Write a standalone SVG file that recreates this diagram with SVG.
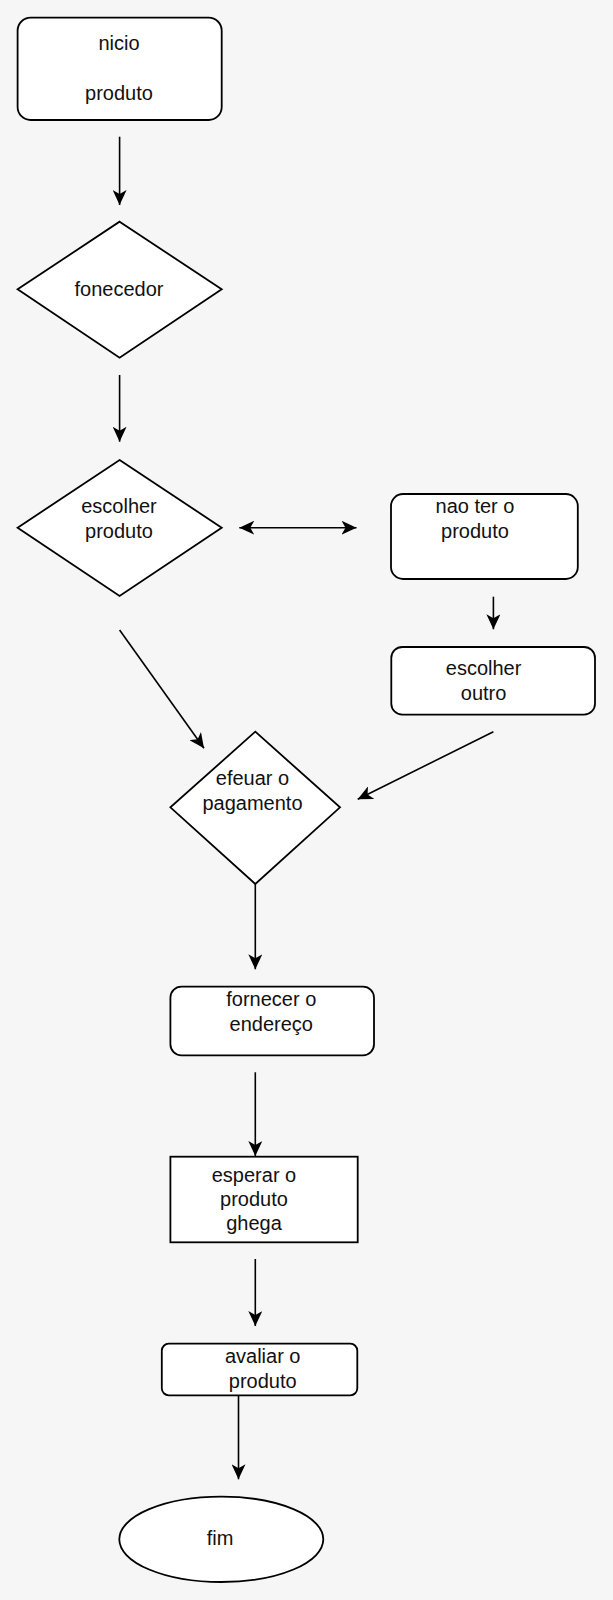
<svg xmlns="http://www.w3.org/2000/svg" width="613" height="1600" viewBox="0 0 613 1600">
<defs>
<marker id="ah" markerUnits="userSpaceOnUse" viewBox="0 0 15 14" refX="15" refY="7" markerWidth="15" markerHeight="14" orient="auto-start-reverse">
<path d="M0,0 L15,7 L0,14 L4,7 Z" fill="#000"/>
</marker>
</defs>
<style>
.s{fill:#fff;stroke:#000;stroke-width:1.8}
.t{font-family:"Liberation Sans",Arial,sans-serif;font-size:20px;fill:#111;text-anchor:middle}
.c{fill:none;stroke:#000;stroke-width:1.6}
</style>
<rect width="613" height="1600" fill="#f6f6f6"/>
<g id="connectors">
<line class="c" x1="119.6" y1="136.7" x2="119.6" y2="205" marker-end="url(#ah)"/>
<line class="c" x1="119.6" y1="375" x2="119.6" y2="441.7" marker-end="url(#ah)"/>
<line class="c" x1="239.3" y1="527.7" x2="356.5" y2="527.7" marker-start="url(#ah)" marker-end="url(#ah)"/>
<line class="c" x1="493.4" y1="596.7" x2="493.4" y2="629.3" marker-end="url(#ah)"/>
<line class="c" x1="119.6" y1="630" x2="204" y2="748.3" marker-end="url(#ah)"/>
<line class="c" x1="493.4" y1="731.7" x2="357.7" y2="799.3" marker-end="url(#ah)"/>
<line class="c" x1="255.3" y1="884" x2="255.3" y2="969.3" marker-end="url(#ah)"/>
<line class="c" x1="255.3" y1="1072.3" x2="255.3" y2="1156" marker-end="url(#ah)"/>
<line class="c" x1="255.3" y1="1259" x2="255.3" y2="1326" marker-end="url(#ah)"/>
<line class="c" x1="238.5" y1="1395.3" x2="238.5" y2="1479.3" marker-end="url(#ah)"/>
</g>
<g id="inicio">
<rect class="s" x="17.6" y="17.7" width="204.1" height="102.3" rx="13" ry="13"/>
<text class="t" x="119" y="50">nicio</text>
<text class="t" x="119" y="100">produto</text>
</g>
<g id="fonecedor">
<polygon class="s" points="119.6,221.7 221.7,289.3 119.6,357.7 17.6,289.3"/>
<text class="t" x="119" y="296">fonecedor</text>
</g>
<g id="escolher-produto">
<polygon class="s" points="119.6,460 221.7,527.7 119.6,596 17.6,527.7"/>
<text class="t" x="119" y="513.3">escolher</text>
<text class="t" x="119" y="538.3">produto</text>
</g>
<g id="nao-ter">
<rect class="s" x="391" y="494" width="186.8" height="85" rx="12" ry="12"/>
<text class="t" x="475" y="513.3">nao ter o</text>
<text class="t" x="475" y="538.3">produto</text>
</g>
<g id="escolher-outro">
<rect class="s" x="391.3" y="647" width="203.7" height="67.7" rx="11" ry="11"/>
<text class="t" x="483.6" y="675">escolher</text>
<text class="t" x="483.6" y="700">outro</text>
</g>
<g id="pagamento">
<polygon class="s" points="255.3,731.7 340,807.3 255.3,884 170.4,807.3"/>
<text class="t" x="252.5" y="785">efeuar o</text>
<text class="t" x="252.5" y="810">pagamento</text>
</g>
<g id="endereco">
<rect class="s" x="170.4" y="986.7" width="203.6" height="68.6" rx="11" ry="11"/>
<text class="t" x="271.3" y="1006">fornecer o</text>
<text class="t" x="271.3" y="1031">endereço</text>
</g>
<g id="esperar">
<rect class="s" x="170.4" y="1156.7" width="187.3" height="85.6"/>
<text class="t" x="254" y="1181.7">esperar o</text>
<text class="t" x="254" y="1205.5">produto</text>
<text class="t" x="254" y="1230">ghega</text>
</g>
<g id="avaliar">
<rect class="s" x="161.8" y="1343.7" width="195.5" height="51.6" rx="7" ry="7"/>
<text class="t" x="262.7" y="1363.3">avaliar o</text>
<text class="t" x="262.7" y="1388.3">produto</text>
</g>
<g id="fim">
<ellipse class="s" cx="221.3" cy="1539.3" rx="102" ry="42.7"/>
<text class="t" x="220" y="1545">fim</text>
</g>
</svg>
